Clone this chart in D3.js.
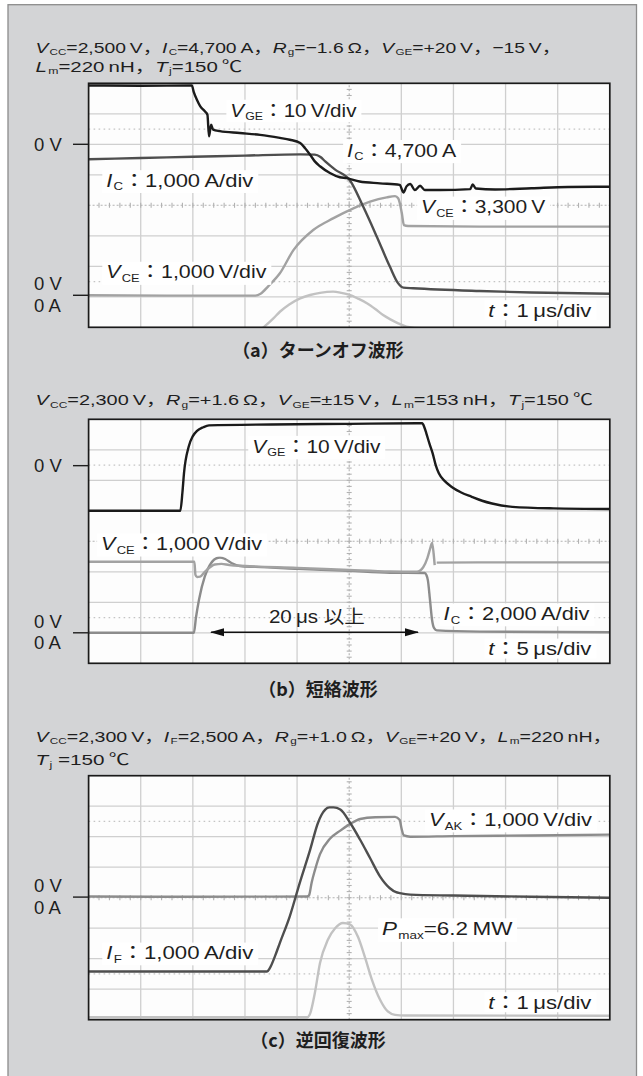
<!DOCTYPE html>
<html>
<head>
<meta charset="utf-8">
<script src="https://cdn.jsdelivr.net/npm/d3@7"></script>
<style>
  body { margin: 0; background: #fff; }
  svg { display: block; font-family: "Liberation Sans", "Noto Sans CJK JP", sans-serif; }
</style>
</head>
<body>
<svg id="chart" width="643" height="1076"></svg>
<script>
// Screen is 10 div wide, 8 div tall, 0 = bottom edge.

// (a) turn-off, 1 us/div
const vgeA = [[0,7.93],[1,7.92],[1.98,7.93],[2.02,7.7],[2.08,7.45],[2.14,7.25],[2.23,7.08],[2.28,6.97],[2.31,6.26],
  [2.35,6.64],[2.39,6.48],[2.52,6.43],[2.9,6.37],[3.29,6.31],[3.67,6.21],[3.86,6.15],[4.06,6.04],[4.15,5.88],
  [4.25,5.66],[4.34,5.44],[4.44,5.28],[4.63,5.06],[4.82,4.92],[4.95,4.89],[5.2,4.78],[5.59,4.72],[5.97,4.67],
  [6.04,4.42],[6.1,4.62],[6.17,4.70],[6.26,4.5],[6.36,4.64],[6.45,4.5],[6.74,4.5],[7.32,4.53],[7.37,4.68],
  [7.43,4.55],[7.8,4.52],[8.5,4.56],[9.2,4.6],[10,4.61]];
const icA = [[0,5.51],[1,5.55],[2,5.59],[3,5.63],[4.06,5.67],[4.34,5.66],[4.45,5.58],[4.54,5.44],[4.73,5.17],
  [5.01,4.83],[5.27,3.95],[5.53,2.97],[5.78,1.99],[5.94,1.44],[6.04,1.30],[6.23,1.28],[7.5,1.19],[8.5,1.14],[10,1.1]];
const vceA = [[0,1.05],[1.5,1.04],[3.2,1.04],[3.3,1.1],[3.45,1.35],[3.67,1.77],[3.93,2.53],[4.31,3.19],[4.69,3.57],
  [5.08,3.90],[5.40,4.12],[5.72,4.26],[5.88,4.30],[5.94,4.23],[6.01,3.74],[6.05,3.35],[6.13,3.32],[7.5,3.30],[10,3.30]];
const powA = [[0,-0.05],[3.3,-0.05],[3.41,0.08],[3.55,0.3],[3.67,0.51],[3.85,0.75],[4.06,0.95],[4.25,1.06],[4.44,1.13],
  [4.69,1.17],[4.85,1.13],[5.01,1.06],[5.17,0.94],[5.34,0.79],[5.5,0.6],[5.65,0.40],[5.8,0.25],[5.94,0.13],
  [6.1,0.02],[6.4,-0.03],[10,-0.03]];

// (b) short circuit, 5 us/div
const vgeB = [[0,5.0],[1,5.0],[1.76,5.0],[1.80,5.6],[1.83,6.23],[1.92,7.10],[2.0,7.45],[2.08,7.62],[2.2,7.74],
  [2.31,7.8],[3.5,7.83],[5,7.85],[6.40,7.87],[6.44,7.75],[6.48,7.54],[6.54,7.2],[6.60,6.89],[6.66,6.5],[6.72,6.23],
  [6.83,5.98],[6.96,5.79],[7.15,5.6],[7.35,5.46],[7.55,5.33],[7.74,5.24],[8.13,5.13],[8.92,5.08],[10,5.06]];
const vceB = [[0,3.33],[1,3.33],[2.03,3.33],[2.05,2.9],[2.08,2.83],[2.14,2.84],[2.23,3.0],[2.33,3.15],[2.42,3.24],
  [2.55,3.26],[2.7,3.22],[3.0,3.19],[4,3.13],[5,3.06],[5.78,3.01],[6.3,3.0],[6.42,3.15],[6.5,3.45],[6.56,3.8],
  [6.59,3.95],[6.62,3.6],[6.64,3.22],null,[6.68,3.30],[8,3.31],[10,3.31]];
const icB = [[0,1.0],[1,1.0],[2.02,1.0],[2.06,1.5],[2.12,2.1],[2.23,2.85],[2.32,3.2],[2.38,3.35],[2.45,3.44],
  [2.52,3.47],[2.62,3.42],[2.75,3.28],[2.9,3.19],[3.2,3.16],[4,3.1],[5,3.03],[5.78,2.97],[6.45,2.96],[6.48,2.9],
  [6.51,2.72],[6.55,2.08],[6.59,1.42],[6.63,1.15],[6.68,1.08],[7.5,1.04],[10,1.02]];

// (c) reverse recovery, 1 us/div
const ifC = [[0,1.58],[2,1.58],[3.42,1.58],[3.48,1.7],[3.58,2.1],[3.67,2.52],[3.86,3.39],[4.05,4.48],[4.25,5.57],
  [4.40,6.45],[4.47,6.72],[4.54,6.89],[4.62,6.96],[4.70,6.96],[4.83,6.89],[5.02,6.45],[5.21,5.90],[5.40,5.30],
  [5.59,4.70],[5.78,4.31],[5.90,4.18],[5.97,4.15],[6.17,4.10],[7,4.07],[8.5,4.03],[10,4.0]];
const vakC = [[0,4.04],[2,4.03],[4.2,4.04],[4.23,4.08],[4.28,4.5],[4.34,4.89],[4.44,5.43],[4.63,5.93],[4.83,6.20],
  [5.02,6.42],[5.21,6.58],[5.50,6.64],[5.88,6.65],[5.97,6.55],[6.0,6.3],[6.05,6.04],[6.17,6.0],[7,6.02],[8.5,6.04],[10,6.07]];
const powC = [[0,0.08],[4.2,0.08],[4.25,0.2],[4.34,0.87],[4.44,1.86],[4.59,2.62],[4.73,3.0],[4.88,3.17],[5.02,3.12],
  [5.17,2.71],[5.30,2.06],[5.44,1.29],[5.59,0.66],[5.74,0.27],[5.88,0.16],[6.07,0.14],[10,0.13]];

// text (markup: *italic*, _{subscript})
const headersA = ["*V*_{CC}=2,500\u2009V，*I*_{C}=4,700\u2009A，*R*_{g}=\u22121.6\u2009Ω，*V*_{GE}=+20\u2009V，\u221215\u2009V，",
                  "*L*_{m}=220\u2009nH，*T*_{j}=150\u2009℃"];
const headersB = ["*V*_{CC}=2,300\u2009V，*R*_{g}=+1.6\u2009Ω，*V*_{GE}=±15\u2009V，*L*_{m}=153\u2009nH，*T*_{j}=150\u2009℃"];
const headersC = ["*V*_{CC}=2,300\u2009V，*I*_{F}=2,500\u2009A，*R*_{g}=+1.0\u2009Ω，*V*_{GE}=+20\u2009V，*L*_{m}=220\u2009nH，",
                  "*T*_{j} =150\u2009℃"];
const captions = ["（a）ターンオフ波形", "（b）短絡波形", "（c）逆回復波形"];
const labelsA = ["*V*_{GE}：10\u2009V/div", "*I*_{C}：4,700\u2009A", "*I*_{C}：1,000\u2009A/div",
                 "*V*_{CE}：3,300\u2009V", "*V*_{CE}：1,000\u2009V/div", "*t*：1\u2009μs/div"];
const labelsB = ["*V*_{GE}：10\u2009V/div", "*V*_{CE}：1,000\u2009V/div", "*I*_{C}：2,000\u2009A/div",
                 "20\u2009μs 以上", "*t*：5\u2009μs/div"];
const labelsC = ["*V*_{AK}：1,000\u2009V/div", "*P*_{max}=6.2\u2009MW", "*I*_{F}：1,000\u2009A/div", "*t*：1\u2009μs/div"];
const refTexts = ["0 V", "0 A"];

// ---------------------------------------------------------------
const svg = d3.select("#chart");
const W = 643, H = 1076;
const box = { x: 88.6, w: 521.2, h: 244 };
const ink = "#1e1e1e";
const cols = { black: "#1b1b1b", dark: "#4e4e4e", mid: "#8c8c8c", light: "#a2a2a2", pale: "#c2c2c2" };

svg.append("rect").attr("width", W).attr("height", H).attr("fill", "#fff");
svg.append("rect").attr("x", 8).attr("y", 4.7).attr("width", 628.5).attr("height", H + 10)
  .attr("fill", "#d3d4d6").attr("stroke", "#8c8c8c").attr("stroke-width", 1.3);

// rich text, stretched horizontally to the width it has in the print
const rich = (sel, str, x, y, size, width, drop = 0.2) => {
  const t = sel.append("text").attr("x", x).attr("y", y).attr("font-size", size).attr("fill", ink);
  const shift = size * drop;
  let low = false;
  for (const m of str.matchAll(/\*([^*]+)\*|_\{([^}]+)\}|([^*_]+)/g)) {
    const s = t.append("tspan");
    if (m[2]) {
      s.attr("font-size", size * 0.6).attr("dy", shift).attr("dx", 1).text(m[2]);
      low = true;
      continue;
    }
    if (low) { s.attr("dy", -shift); low = false; }
    if (m[1]) s.attr("font-style", "italic").text(m[1]);
    else s.text(m[3]);
  }
  if (width) {
    const b = t.node().getBBox();
    const k = width / b.width;
    t.attr("transform", `translate(${x},0) scale(${k},1) translate(${-x},0)`);
  }
  return t;
};

const panels = [
  { top: 83.3, headerY: [53, 72], headers: headersA, hw: [526, 207], capY: 356.5, caption: captions[0],
    traces: [[powA, cols.pale], [vceA, cols.light], [icA, cols.dark], [vgeA, cols.black]],
    labels: [[labelsA[0], 2.72, 7.12, 127], [labelsA[1], 4.96, 5.81, 110], [labelsA[2], 0.34, 4.83, 148],
             [labelsA[3], 6.38, 3.95, 125], [labelsA[4], 0.34, 1.82, 161], [labelsA[5], 7.67, 0.57, 104]],
    refs: [[6, [refTexts[0]]], [1.05, refTexts]] },
  { top: 419.3, headerY: [405.5], headers: headersB, hw: [558], capY: 695.5, caption: captions[1],
    traces: [[icB, cols.mid], [vceB, cols.light], [vgeB, cols.black]],
    labels: [[labelsB[0], 3.14, 7.12, 129], [labelsB[1], 0.24, 3.93, 162], [labelsB[2], 6.81, 1.64, 147],
             [labelsB[3], 3.46, 1.53, 96, true], [labelsB[4], 7.67, 0.49, 104]],
    refs: [[6.48, [refTexts[0]]], [1.0, refTexts]],
    arrow: [2.35, 6.32, 1.02] },
  { top: 775.7, headerY: [742, 765.5], headers: headersC, hw: [577, 94], capY: 1046.5, caption: captions[2],
    traces: [[powC, cols.pale], [vakC, cols.mid], [ifC, cols.dark]],
    labels: [[labelsC[0], 6.53, 6.57, 164], [labelsC[1], 5.63, 2.98, 131], [labelsC[2], 0.34, 2.21, 148],
             [labelsC[3], 7.67, 0.58, 104]],
    refs: [[4.02, refTexts]] }
];

svg.append("defs").append("marker").attr("id", "head").attr("viewBox", "0 0 14 10")
  .attr("refX", 13).attr("refY", 5).attr("markerWidth", 14).attr("markerHeight", 10)
  .attr("markerUnits", "userSpaceOnUse").attr("orient", "auto-start-reverse")
  .append("path").attr("d", "M0,1L14,5L0,9Z").attr("fill", "#111");

panels.forEach((p, i) => {
  const g = svg.append("g");
  const x = d3.scaleLinear().domain([0, 10]).range([box.x, box.x + box.w]);
  const y = d3.scaleLinear().domain([0, 8]).range([p.top + box.h, p.top]);

  p.headers.forEach((h, k) => rich(g, h, 35.5, p.headerY[k], 15.5, p.hw[k], 0.14));
  g.append("text").attr("x", 318).attr("y", p.capY).attr("text-anchor", "middle")
    .attr("font-size", 18).attr("font-weight", 700).attr("fill", ink)
    .attr("font-family", "'Noto Sans CJK JP', sans-serif").text(p.caption);

  // screen + graticule
  g.append("rect").attr("x", box.x).attr("y", p.top).attr("width", box.w).attr("height", box.h).attr("fill", "#fdfdfd");
  const grid = g.append("g").attr("stroke", "#cfcfcf").attr("stroke-width", 1.3);
  grid.selectAll(".v").data(d3.range(1, 10).filter(d => d !== 5)).join("line")
    .attr("x1", d => x(d)).attr("x2", d => x(d)).attr("y1", y(0)).attr("y2", y(8));
  grid.selectAll(".h").data(d3.range(1, 8).filter(d => d !== 4)).join("line")
    .attr("y1", d => y(d)).attr("y2", d => y(d)).attr("x1", x(0)).attr("x2", x(10));
  const dots = g.append("g").attr("stroke", "#c4c4c4").attr("stroke-width", 1.3).attr("stroke-dasharray", "1.6,3.4");
  dots.selectAll("line").data([1.5, 6.5]).join("line")
    .attr("y1", d => y(d)).attr("y2", d => y(d)).attr("x1", x(0)).attr("x2", x(10));
  const centre = g.append("g").attr("stroke", "#b2b2b2").attr("stroke-width", 1.1);
  centre.append("line").attr("x1", x(5)).attr("x2", x(5)).attr("y1", y(0)).attr("y2", y(8)).attr("stroke-dasharray", "2,2");
  centre.append("line").attr("x1", x(0)).attr("x2", x(10)).attr("y1", y(4)).attr("y2", y(4)).attr("stroke-dasharray", "2,2");
  centre.selectAll(".tx").data(d3.range(0.2, 10, 0.2)).join("line")
    .attr("x1", d => x(d)).attr("x2", d => x(d)).attr("y1", y(4) - 2.5).attr("y2", y(4) + 2.5);
  centre.selectAll(".ty").data(d3.range(0.2, 8, 0.2)).join("line")
    .attr("y1", d => y(d)).attr("y2", d => y(d)).attr("x1", x(5) - 2.5).attr("x2", x(5) + 2.5);

  // traces
  const clipId = "clip" + i;
  g.append("clipPath").attr("id", clipId).append("rect")
    .attr("x", box.x).attr("y", p.top).attr("width", box.w).attr("height", box.h);
  const line = d3.line().defined(d => d !== null).x(d => x(d[0])).y(d => y(d[1])).curve(d3.curveMonotoneX);
  g.append("g").attr("clip-path", `url(#${clipId})`).selectAll("path").data(p.traces).join("path")
    .attr("d", d => line(d[0])).attr("fill", "none").attr("stroke", d => d[1])
    .attr("stroke-width", 2.4).attr("stroke-linejoin", "round");

  // labels on white patches
  p.labels.forEach(([s, lx, ly, w, plain]) => {
    const x0 = x(lx);
    const t = rich(g, s, x0, y(ly) + 6.6, 18.5, w);
    if (!plain) {
      const b = t.node().getBBox();
      g.insert("rect", () => t.node()).attr("x", x0 - 4).attr("y", b.y)
        .attr("width", w + 8).attr("height", b.height).attr("fill", "#fff");
    }
  });

  if (p.arrow) {
    const [a0, a1, ay] = p.arrow;
    g.append("line").attr("x1", x(a0)).attr("x2", x(a1)).attr("y1", y(ay)).attr("y2", y(ay))
      .attr("stroke", "#111").attr("stroke-width", 1.6)
      .attr("marker-start", "url(#head)").attr("marker-end", "url(#head)");
  }

  g.append("rect").attr("x", box.x).attr("y", p.top).attr("width", box.w).attr("height", box.h)
    .attr("fill", "none").attr("stroke", "#1a1a1a").attr("stroke-width", 1.7);

  // 0 V / 0 A reference marks
  p.refs.forEach(([lvl, texts]) => {
    const yy = y(lvl);
    g.append("line").attr("x1", 73).attr("x2", box.x).attr("y1", yy).attr("y2", yy)
      .attr("stroke", ink).attr("stroke-width", 1.4);
    const offs = texts.length === 1 ? [0] : [-11.7, 10];
    texts.forEach((s, k) => g.append("text").attr("x", 34).attr("y", yy + offs[k] + 6.6)
      .attr("font-size", 18.5).attr("fill", ink).text(s));
  });
});
</script>
</body>
</html>
